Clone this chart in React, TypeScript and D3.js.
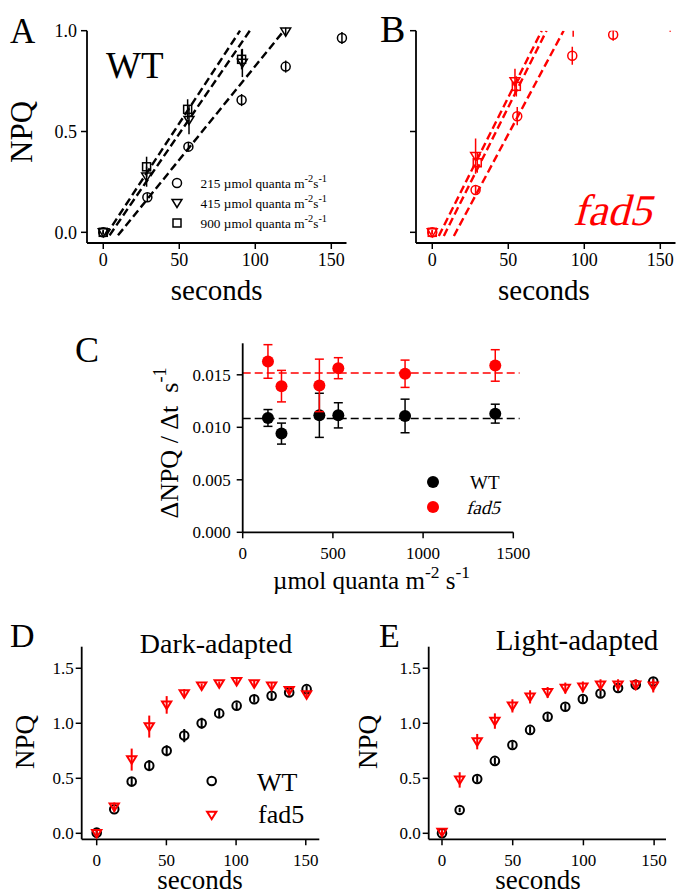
import React from "react";
import * as d3 from "d3";

const FONT = "'Liberation Serif', 'Times New Roman', serif";
const RED = "#ff0000";

// Panel A: WT, NPQ rise at three light intensities (time in s)
const aT215 = [0, 29, 56, 91, 120, 157];
const aY215 = [0, 0.174, 0.425, 0.656, 0.822, 0.964];
const aE215 = [0.01, 0.02, 0.02, 0.03, 0.03, 0.03];
const aT415 = [0, 28.5, 56.4, 91.5, 120];
const aY415 = [0, 0.276, 0.557, 0.84, 0.995];
const aE415 = [0.01, 0.05, 0.07, 0.07, 0.02];
const aT900 = [0, 28.5, 55.5, 91];
const aY900 = [0, 0.325, 0.61, 0.858];
const aE900 = [0.01, 0.05, 0.05, 0.05];
// linear fits: slope (NPQ/s) and x-intercept (s) for 215, 415, 900
const aFitSlope = [0.0093, 0.011, 0.0115];
const aFitT0 = [11.3, 5.5, 3.0];

// Panel B: fad5
const bT215 = [0, 28.5, 55.9, 92.1, 119];
const bY215 = [0, 0.21, 0.576, 0.876, 0.98];
const bE215 = [0.01, 0.02, 0.045, 0.045, 0.03];
const bT415 = [0, 28.5, 54.4, 92.7];
const bY415 = [0, 0.378, 0.749, 1.07];
const bE415 = [0.01, 0.087, 0.062, 0.1];
const bT900 = [0, 29.6, 55.3, 156.5];
const bY900 = [0, 0.345, 0.724, 1.06];
const bE900 = [0.01, 0.05, 0.05, 0.065];
const bFitSlope = [0.0141, 0.01504, 0.01507];
const bFitT0 = [15.5, 5.5, 8.8];

// Panel C: rate vs light intensity
const cLight = [140, 215, 425, 530, 900, 1400];
const cWT = [0.01089, 0.0094, 0.01114, 0.01114, 0.01108, 0.0113];
const cWTErr = [0.0008, 0.001, 0.0021, 0.0012, 0.0016, 0.0009];
const cFad = [0.01627, 0.01392, 0.01399, 0.01563, 0.0151, 0.01589];
const cFadErr = [0.0016, 0.0015, 0.0025, 0.001, 0.0013, 0.0015];
const cMean = [0.01085, 0.01516]; // WT, fad5

// Panel D: dark-adapted
const dTime = [0, 12.6, 25.1, 37.7, 50.2, 62.8, 75.3, 87.9, 100.4, 113, 125.5, 138.1, 150.6];
const dWT = [0.006, 0.218, 0.47, 0.615, 0.75, 0.888, 1.0, 1.09, 1.16, 1.218, 1.25, 1.28, 1.31];
const dWTErr = [0.02, 0.02, 0.04, 0.05, 0.05, 0.06, 0.05, 0.04, 0.03, 0.03, 0.03, 0.03, 0.03];
const dFad = [0, 0.24, 0.67, 0.97, 1.167, 1.27, 1.34, 1.36, 1.38, 1.36, 1.34, 1.3, 1.26];
const dFadErr = [0.02, 0.04, 0.1, 0.1, 0.08, 0.04, 0.02, 0.02, 0.03, 0.03, 0.03, 0.02, 0.02];

// Panel E: light-adapted
const eTime = [0, 12.5, 24.9, 37.4, 49.8, 62.3, 74.7, 87.2, 99.6, 112.1, 124.5, 137, 149.4];
const eWT = [0, 0.212, 0.494, 0.658, 0.803, 0.94, 1.06, 1.15, 1.22, 1.27, 1.32, 1.35, 1.38];
const eWTErr = [0.02, 0.02, 0.03, 0.03, 0.03, 0.03, 0.03, 0.03, 0.03, 0.03, 0.03, 0.03, 0.03];
const eFad = [0.01, 0.485, 0.833, 1.02, 1.158, 1.24, 1.28, 1.32, 1.33, 1.35, 1.35, 1.35, 1.34];
const eFadErr = [0.02, 0.07, 0.07, 0.07, 0.06, 0.06, 0.05, 0.05, 0.05, 0.05, 0.05, 0.05, 0.06];

const secTicks = [0, 50, 100, 150];
const npqTicksAB = [0, 0.5, 1.0];
const npqTicksDE = [0, 0.5, 1.0, 1.5];
const lightTicks = [0, 500, 1000, 1500];
const rateTicks = [0, 0.005, 0.01, 0.015];

// scales
const axA = d3.scaleLinear().domain([-10.7, 160]).range([87, 346.5]);
const ayA = d3.scaleLinear().domain([-0.053, 1]).range([243, 30.7]);
const axB = d3.scaleLinear().domain([-10.7, 160]).range([416, 675.5]);
const cx = d3.scaleLinear().domain([0, 1500]).range([242.7, 513.3]);
const cy = d3.scaleLinear().domain([0, 0.018]).range([532.3, 343.3]);
const dx = d3.scaleLinear().domain([-10.76, 159.7]).range([81.7, 319.3]);
const dy = d3.scaleLinear().domain([-0.0545, 1.696]).range([839.3, 646.7]);
const ex = d3.scaleLinear().domain([-9.4, 158.4]).range([428.7, 666]);

function Marker({ shape, x, y, color, s, sw }: any) {
  if (shape === "circle")
    return <circle cx={x} cy={y} r={s} fill="none" stroke={color} strokeWidth={sw} />;
  if (shape === "dot") return <circle cx={x} cy={y} r={s} fill={color} />;
  if (shape === "tri")
    return (
      <path
        d={`M${x - s * 1.1},${y - s * 0.8}L${x + s * 1.1},${y - s * 0.8}L${x},${y + s}Z`}
        fill="none"
        stroke={color}
        strokeWidth={sw}
      />
    );
  return <rect x={x - s} y={y - s} width={2 * s} height={2 * s} fill="none" stroke={color} strokeWidth={sw} />;
}

function Series({ xs, ys, es, x, y, shape, color, s = 4.5, sw = 1.5, cap = 0 }: any) {
  return (
    <g>
      {xs.map((t: number, i: number) => {
        const px = x(t);
        const top = y(ys[i] + es[i]);
        const bot = y(ys[i] - es[i]);
        return (
          <g key={i}>
            <line x1={px} x2={px} y1={top} y2={bot} stroke={color} strokeWidth={sw} />
            {cap > 0 && (
              <>
                <line x1={px - cap} x2={px + cap} y1={top} y2={top} stroke={color} strokeWidth={sw} />
                <line x1={px - cap} x2={px + cap} y1={bot} y2={bot} stroke={color} strokeWidth={sw} />
              </>
            )}
            <Marker shape={shape} x={px} y={y(ys[i])} color={color} s={s} sw={sw} />
          </g>
        );
      })}
    </g>
  );
}

function Axes({ x, y, xt, yt, fs, xOff, yOff, yLabels = true, fmtY, fmtX = (v: number) => String(v) }: any) {
  const [x0, x1] = x.range();
  const [y0, y1] = y.range();
  return (
    <g fontFamily={FONT} fontSize={fs} fill="#000">
      <line x1={x0} x2={x0} y1={y0} y2={y1} stroke="#000" strokeWidth={1.8} />
      <line x1={x0} x2={x1} y1={y0} y2={y0} stroke="#000" strokeWidth={1.8} />
      {yt.map((v: number) => (
        <g key={"y" + v}>
          <line x1={x0 - 6} x2={x0} y1={y(v)} y2={y(v)} stroke="#000" strokeWidth={1.5} />
          {yLabels && (
            <text x={x0 - yOff} y={y(v)} dy="0.35em" textAnchor="end">
              {fmtY(v)}
            </text>
          )}
        </g>
      ))}
      {xt.map((v: number) => (
        <g key={"x" + v}>
          <line x1={x(v)} x2={x(v)} y1={y0} y2={y0 + 6} stroke="#000" strokeWidth={1.5} />
          <text x={x(v)} y={y0 + xOff} textAnchor="middle">
            {fmtX(v)}
          </text>
        </g>
      ))}
    </g>
  );
}

function FitLines({ slopes, t0s, x, y, color, y0 }: any) {
  const line = d3
    .line<[number, number]>()
    .x((p) => x(p[0]))
    .y((p) => y(p[1]));
  return (
    <g>
      {slopes.map((s: number, i: number) => {
        const d = line([
          [t0s[i] + y0 / s, y0],
          [t0s[i] + 1 / s, 1],
        ]);
        return <path key={i} d={d || ""} stroke={color} strokeWidth={2.4} strokeDasharray="8,4" fill="none" />;
      })}
    </g>
  );
}

function Sup({ children, size, k = 0.7 }: any) {
  return (
    <tspan dy={-size * 0.45} fontSize={size * k}>
      {children}
    </tspan>
  );
}

// serif italic drawn by slanting the regular face
function Italic({ x, y, size, color = "#000", anchor = "start", children }: any) {
  return (
    <text
      transform={`translate(${x},${y}) skewX(-15)`}
      fontFamily={FONT}
      fontSize={size}
      fill={color}
      textAnchor={anchor}
    >
      {children}
    </text>
  );
}

const App = () => {
  const legendA = ["215", "415", "900"];
  const shapesA = ["circle", "tri", "square"];
  const f1 = (v: number) => v.toFixed(1);
  return (
    <svg
      width={676}
      height={893}
      style={{ position: "absolute", left: 0, top: 0, background: "#fff" }}
      fontFamily={FONT}
    >
      <defs>
        <clipPath id="clipB">
          <rect x={416} y={ayA(1)} width={262} height={240} />
        </clipPath>
      </defs>

      {/* ---------- Panel A ---------- */}
      <text x={10} y={43} fontSize={35}>A</text>
      <Axes x={axA} y={ayA} xt={secTicks} yt={npqTicksAB} fs={18} xOff={23} yOff={10} fmtY={f1} />
      <text x={216.7} y={300} fontSize={29} textAnchor="middle">seconds</text>
      <text transform="translate(32,132) rotate(-90)" fontSize={31} textAnchor="middle">NPQ</text>
      <text x={106} y={78} fontSize={37}>WT</text>
      <FitLines slopes={aFitSlope} t0s={aFitT0} x={axA} y={ayA} color="#000" y0={-0.015} />
      <Series xs={aT215} ys={aY215} es={aE215} x={axA} y={ayA} shape="circle" color="#000" />
      <Series xs={aT415} ys={aY415} es={aE415} x={axA} y={ayA} shape="tri" color="#000" />
      <Series xs={aT900} ys={aY900} es={aE900} x={axA} y={ayA} shape="square" color="#000" s={4} />
      {legendA.map((l, i) => (
        <g key={l}>
          <Marker shape={shapesA[i]} x={177} y={183 + i * 20} color="#000" s={i === 2 ? 4 : 4.5} sw={1.5} />
          <text x={200.5} y={187.5 + i * 20} fontSize={13.3}>
            {l} µmol quanta m<Sup size={13.3} k={0.78}>-2</Sup>
            <tspan dy={13.3 * 0.45}>s</tspan>
            <Sup size={13.3} k={0.78}>-1</Sup>
          </text>
        </g>
      ))}

      {/* ---------- Panel B ---------- */}
      <text x={380} y={42} fontSize={38}>B</text>
      <Axes x={axB} y={ayA} xt={secTicks} yt={npqTicksAB} fs={18} xOff={23} yOff={10} yLabels={false} fmtY={f1} />
      <text x={544} y={300} fontSize={29} textAnchor="middle">seconds</text>
      <Italic x={651} y={225} size={44} color={RED} anchor="end">fad5</Italic>
      <g clipPath="url(#clipB)">
        <FitLines slopes={bFitSlope} t0s={bFitT0} x={axB} y={ayA} color={RED} y0={-0.018} />
        <Series xs={bT215} ys={bY215} es={bE215} x={axB} y={ayA} shape="circle" color={RED} />
        <Series xs={bT415} ys={bY415} es={bE415} x={axB} y={ayA} shape="tri" color={RED} />
        <Series xs={bT900} ys={bY900} es={bE900} x={axB} y={ayA} shape="square" color={RED} s={4} />
      </g>

      {/* ---------- Panel C ---------- */}
      <text x={75} y={362} fontSize={36}>C</text>
      {cMean.map((m, i) => (
        <line
          key={i}
          x1={cx(0)}
          x2={cx(1535)}
          y1={cy(m)}
          y2={cy(m)}
          stroke={i === 0 ? "#000" : RED}
          strokeWidth={1.5}
          strokeDasharray="8,4"
        />
      ))}
      <Axes
        x={cx}
        y={cy}
        xt={lightTicks}
        yt={rateTicks}
        fs={17}
        xOff={27}
        yOff={12}
        fmtY={(v: number) => v.toFixed(3)}
      />
      <Series xs={cLight} ys={cWT} es={cWTErr} x={cx} y={cy} shape="dot" color="#000" s={6} sw={1.5} cap={4.5} />
      <Series xs={cLight} ys={cFad} es={cFadErr} x={cx} y={cy} shape="dot" color={RED} s={6} sw={1.5} cap={4.5} />
      <text x={273} y={589} fontSize={25}>
        µmol quanta m<Sup size={25}>-2</Sup>
        <tspan dy={25 * 0.45}> s</tspan>
        <Sup size={25}>-1</Sup>
      </text>
      <text transform="translate(178,443) rotate(-90)" fontSize={26} textAnchor="middle">
        ΔNPQ / Δt{"\u00a0\u00a0"}s<Sup size={26}>-1</Sup>
      </text>
      <circle cx={433} cy={482} r={6} fill="#000" />
      <text x={470} y={489} fontSize={19}>WT</text>
      <circle cx={433} cy={507} r={6} fill={RED} />
      <Italic x={466} y={514} size={19}>fad5</Italic>

      {/* ---------- Panel D ---------- */}
      <text x={10} y={647} fontSize={34}>D</text>
      <text x={216} y={653} fontSize={28} textAnchor="middle">Dark-adapted</text>
      <Axes x={dx} y={dy} xt={secTicks} yt={npqTicksDE} fs={17} xOff={27} yOff={8} fmtY={f1} />
      <text x={200} y={889} fontSize={27} textAnchor="middle">seconds</text>
      <text transform="translate(34,742) rotate(-90)" fontSize={27} textAnchor="middle">NPQ</text>
      <Series xs={dTime} ys={dWT} es={dWTErr} x={dx} y={dy} shape="circle" color="#000" s={4.3} sw={2} />
      <Series xs={dTime} ys={dFad} es={dFadErr} x={dx} y={dy} shape="tri" color={RED} s={4.2} sw={2} />
      <Marker shape="circle" x={211.7} y={781} color="#000" s={4.3} sw={2} />
      <text x={257} y={791} fontSize={26}>WT</text>
      <Marker shape="tri" x={211.7} y={815} color={RED} s={4.2} sw={2} />
      <text x={258} y={823} fontSize={26}>fad5</text>

      {/* ---------- Panel E ---------- */}
      <text x={379} y={647} fontSize={34}>E</text>
      <text x={577} y={650} fontSize={29} textAnchor="middle">Light-adapted</text>
      <Axes x={ex} y={dy} xt={secTicks} yt={npqTicksDE} fs={17} xOff={27} yOff={8} fmtY={f1} />
      <text x={538} y={889} fontSize={27} textAnchor="middle">seconds</text>
      <text transform="translate(377,742) rotate(-90)" fontSize={27} textAnchor="middle">NPQ</text>
      <Series xs={eTime} ys={eWT} es={eWTErr} x={ex} y={dy} shape="circle" color="#000" s={4.3} sw={2} />
      <Series xs={eTime} ys={eFad} es={eFadErr} x={ex} y={dy} shape="tri" color={RED} s={4.2} sw={2} />
    </svg>
  );
};

export default App;
